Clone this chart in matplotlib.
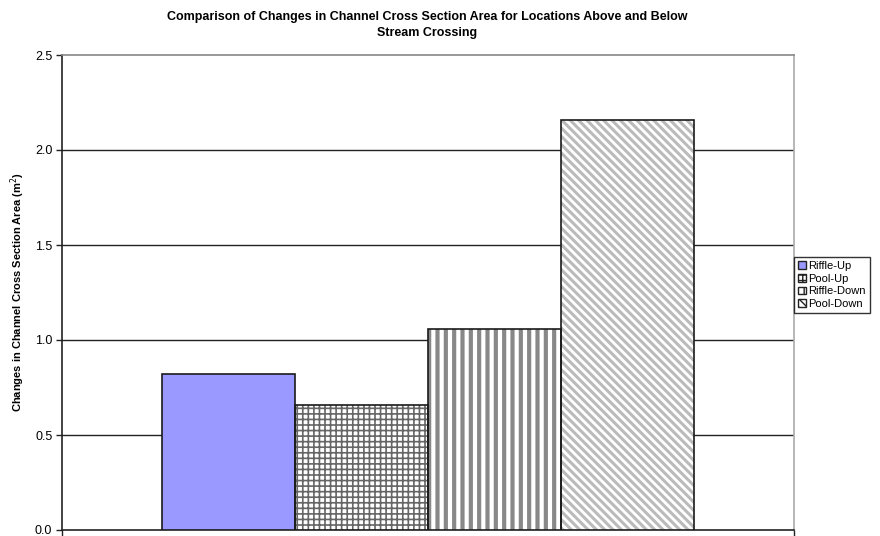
import matplotlib
matplotlib.use("Agg")
import matplotlib.pyplot as plt
from matplotlib.patches import Patch

plt.rcParams['font.family'] = ['Liberation Sans', 'DejaVu Sans']

categories = ["Riffle-Up", "Pool-Up", "Riffle-Down", "Pool-Down"]
values = [0.82, 0.66, 1.06, 2.16]
yticks = [0.0, 0.5, 1.0, 1.5, 2.0, 2.5]

facecolors = ["#9999FF", "white", "white", "white"]
hatches = [None, "+++", "||", "\\\\\\\\"]
hatchcolors = [None, "#666666", "#888888", "#BBBBBB"]
hatchwidths = [1.0, 1.2, 3.0, 2.2]

fig = plt.figure(figsize=(8.8, 5.36), dpi=100)
ax = fig.add_axes([62/880, 6/536, (794-62)/880, (530-55)/536])

xs = list(range(len(categories)))
handles = []
for i, (c, v) in enumerate(zip(categories, values)):
    if hatches[i]:
        b = ax.bar(xs[i], v, width=1.0, color=facecolors[i], edgecolor=hatchcolors[i],
                   hatch=hatches[i], linewidth=0, zorder=3)
        for p in b:
            try:
                p.set_hatch_linewidth(hatchwidths[i])
            except Exception:
                pass
    else:
        ax.bar(xs[i], v, width=1.0, color=facecolors[i], linewidth=0, zorder=3)
    ax.bar(xs[i], v, width=1.0, fill=False, edgecolor="#1a1a1a", linewidth=1.2, zorder=4)
    hp = Patch(facecolor=facecolors[i], edgecolor="#222222",
               hatch=hatches[i] if hatches[i] else None, linewidth=1.0, label=c)
    handles.append(hp)

ax.set_xlim(-1.25, 4.25)
ax.set_ylim(0, 2.5)
ax.set_yticks(yticks)
ax.set_yticklabels([f"{t:.1f}" for t in yticks], fontsize=9)
ax.set_xticks([-1.25, 4.25])
ax.set_xticklabels(["", ""])
ax.tick_params(axis='both', direction='out', length=4, width=1, color="#222222", pad=3)

for t in yticks[1:-1]:
    ax.axhline(t, color="#222222", linewidth=1.0, zorder=1)

ax.spines['left'].set_color("#222222")
ax.spines['bottom'].set_color("#222222")
ax.spines['top'].set_color("#888888")
ax.spines['right'].set_color("#aaaaaa")
for s in ax.spines.values():
    s.set_linewidth(1.2)

ax.set_ylabel("Changes in Channel Cross Section Area (m$^2$)", fontsize=8, fontweight='bold', labelpad=6)

fig.text(427/880, 1 - 17/536, "Comparison of Changes in Channel Cross Section Area for Locations Above and Below",
         ha='center', va='center', fontsize=9, fontweight='bold')
fig.text(427/880, 1 - 33/536, "Stream Crossing", ha='center', va='center', fontsize=9, fontweight='bold')

leg = fig.legend(handles=handles, loc='upper left', bbox_to_anchor=(794/880, 1 - 257/536),
                 fontsize=8, frameon=True, fancybox=False, edgecolor="black",
                 handlelength=0.7, handleheight=0.7, handletextpad=0.25, borderpad=0.35,
                 labelspacing=0.25, borderaxespad=0)
leg.get_frame().set_linewidth(1.0)

fig.savefig("out.png", dpi=100)
